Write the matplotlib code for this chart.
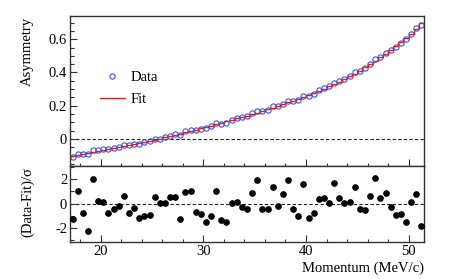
import numpy as np
import matplotlib
matplotlib.use("Agg")
import matplotlib.pyplot as plt
from matplotlib.lines import Line2D
from matplotlib.ticker import MultipleLocator, FuncFormatter

plt.rcParams['font.family'] = ['Liberation Serif', 'DejaVu Serif']

# ---- data ----
bin_low = 17.0
bin_width = 0.5
n_bins = 69

fit_values = [
    -0.100, -0.094, -0.088, -0.082, -0.076, -0.070, -0.064, -0.058, -0.052, -0.046,
    -0.040, -0.034, -0.028, -0.022, -0.016, -0.010, -0.004, 0.002, 0.009, 0.016,
    0.024, 0.032, 0.040, 0.048, 0.056, 0.064, 0.072, 0.080, 0.089, 0.097,
    0.106, 0.114, 0.123, 0.132, 0.141, 0.150, 0.159, 0.169, 0.179, 0.189,
    0.199, 0.209, 0.220, 0.231, 0.242, 0.253, 0.265, 0.277, 0.290, 0.303,
    0.316, 0.330, 0.345, 0.360, 0.376, 0.393, 0.411, 0.430, 0.450, 0.470,
    0.491, 0.513, 0.535, 0.558, 0.582, 0.607, 0.633, 0.662, 0.695,
]

data_values = [
    -0.106, -0.089, -0.092, -0.093, -0.066, -0.069, -0.063, -0.062, -0.054, -0.047,
    -0.037, -0.038, -0.030, -0.028, -0.021, -0.015, -0.001, 0.002, 0.009, 0.019,
    0.027, 0.026, 0.045, 0.053, 0.053, 0.060, 0.064, 0.075, 0.094, 0.090,
    0.098, 0.114, 0.124, 0.131, 0.139, 0.155, 0.169, 0.167, 0.177, 0.196,
    0.198, 0.213, 0.230, 0.229, 0.237, 0.261, 0.259, 0.273, 0.292, 0.305,
    0.316, 0.338, 0.347, 0.360, 0.377, 0.400, 0.409, 0.427, 0.453, 0.480,
    0.493, 0.517, 0.534, 0.553, 0.578, 0.599, 0.634, 0.666, 0.686,
]

residuals = [
    -1.23, 1.01, -0.79, -2.20, 2.05, 0.19, 0.15, -0.80, -0.45, -0.23,
    0.63, -0.79, -0.36, -1.15, -0.98, -0.96, 0.52, 0.03, 0.05, 0.52,
    0.52, -1.23, 0.96, 1.07, -0.68, -0.85, -1.50, -1.01, 1.07, -1.31,
    -1.50, 0.05, 0.13, -0.25, -0.44, 0.90, 1.94, -0.44, -0.41, 1.34,
    -0.22, 0.77, 1.97, -0.46, -1.04, 1.61, -1.17, -0.79, 0.41, 0.46,
    0.05, 1.67, 0.49, 0.08, 0.13, 1.39, -0.41, -0.55, 0.60, 2.08,
    0.49, 0.85, -0.25, -0.96, -0.82, -1.53, 0.16, 0.82, -1.86,
]

edges = bin_low + bin_width * np.arange(n_bins + 1)
centers = 0.5 * (edges[:-1] + edges[1:])

W, H = 471, 279
fig = plt.figure(figsize=(W / 100, H / 100), dpi=100)

def fx(px):
    return px / W

def fy(py):
    return 1 - py / H

left, right = 70, 424
top1, mid, bot2 = 16, 165.5, 242
ax1 = fig.add_axes([fx(left), fy(mid), fx(right) - fx(left), fy(top1) - fy(mid)])
ax2 = fig.add_axes([fx(left), fy(bot2), fx(right) - fx(left), fy(mid) - fy(bot2)])

blue = '#3a55f0'
red = '#cc2a2a'
frame_col = '#333333'
fs = 10.5
gfmt = FuncFormatter(lambda v, p: '%g' % round(v, 6))

# top panel
ax1.plot(centers, data_values, 'o', mfc='none', mec=blue, ms=3.8, mew=0.8, zorder=2)
ax1.stairs(fit_values, edges, color=red, lw=1.0, baseline=None, zorder=3)
ax1.axhline(0, color='#222222', lw=0.8, ls=(0, (3, 2)), zorder=1)
ax1.set_xlim(edges[0], edges[-1])
ax1.set_ylim(-0.16, 0.74)
ax1.yaxis.set_major_locator(MultipleLocator(0.2))
ax1.yaxis.set_minor_locator(MultipleLocator(0.05))
ax1.yaxis.set_major_formatter(gfmt)
ax1.xaxis.set_major_locator(MultipleLocator(10))
ax1.xaxis.set_minor_locator(MultipleLocator(2))
ax1.tick_params(axis='x', labelbottom=False)

# bottom panel
ax2.plot(centers, residuals, 'o', color='black', ms=3.8, zorder=3)
ax2.axhline(0, color='#222222', lw=0.8, ls=(0, (3, 2)), zorder=1)
ax2.set_xlim(edges[0], edges[-1])
ax2.set_ylim(-3.14, 3.13)
ax2.yaxis.set_major_locator(MultipleLocator(2))
ax2.yaxis.set_minor_locator(MultipleLocator(1))
ax2.yaxis.set_major_formatter(gfmt)
ax2.xaxis.set_major_locator(MultipleLocator(10))
ax2.xaxis.set_minor_locator(MultipleLocator(2))

for ax in (ax1, ax2):
    for s in ax.spines.values():
        s.set_color(frame_col)
        s.set_linewidth(1.0)
    ax.tick_params(which='both', direction='in', top=False, right=False,
                   color=frame_col, labelsize=fs, pad=2)
    ax.tick_params(which='major', length=5, width=0.8)
    ax.tick_params(which='minor', length=2.5, width=0.8)
    ax.tick_params(axis='y', which='major', length=5)
    ax.tick_params(axis='y', which='minor', length=2.8)

# legend
handles = [
    Line2D([], [], ls='none', marker='o', mfc='none', mec=blue, ms=3.8, mew=0.8),
    Line2D([], [], color=red, lw=1.0),
]
ax1.legend(handles, ['Data', 'Fit'], loc='upper left', bbox_to_anchor=(0.084, 0.635),
           frameon=False, fontsize=fs, handlelength=1.7, handletextpad=0.4,
           labelspacing=0.62, borderpad=0, borderaxespad=0)

# axis titles
fig.text(fx(27.5), fy(17), 'Asymmetry', rotation=90, ha='center', va='top', fontsize=fs)
fig.text(fx(27.5), fy(167), '(Data-Fit)/σ', rotation=90, ha='center', va='top', fontsize=fs)
fig.text(fx(424), fy(268), 'Momentum (MeV/c)', ha='right', va='center', fontsize=fs)

fig.savefig('out.png', dpi=100)
